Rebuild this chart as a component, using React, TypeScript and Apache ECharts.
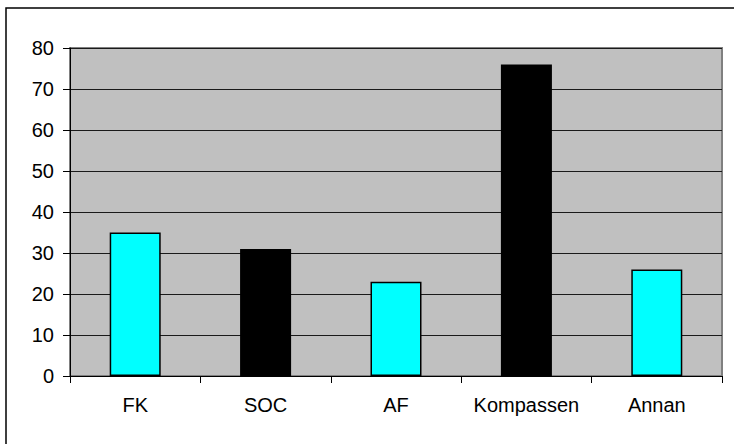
import React, { useEffect, useRef } from "react";
import * as echarts from "echarts";

const categories = ["FK", "SOC", "AF", "Kompassen", "Annan"];
const values = [35, 31, 23, 76, 26];
const barColors = ["#00FFFF", "#000000", "#00FFFF", "#000000", "#00FFFF"];
const yMin = 0;
const yMax = 80;
const yInterval = 10;

export default function App() {
  const ref = useRef<HTMLDivElement>(null);
  useEffect(() => {
    if (!ref.current) return;
    const chart = echarts.init(ref.current, undefined, { renderer: "svg" });
    chart.setOption({
      animation: false,
      backgroundColor: "#FFFFFF",
      textStyle: { fontFamily: "Liberation Sans, Arial, sans-serif" },
      graphic: [
        {
          type: "rect",
          shape: { x: 6, y: 8, width: 760, height: 470 },
          style: { fill: "none", stroke: "#000000", lineWidth: 1.5 },
          silent: true,
          z: 100,
        },
      ],
      grid: {
        left: 70,
        top: 48,
        right: 12,
        bottom: 68,
        show: true,
        backgroundColor: "#C0C0C0",
        borderColor: "#808080",
        borderWidth: 2,
      },
      xAxis: {
        type: "category",
        data: categories,
        axisLine: { show: true, lineStyle: { color: "#000000", width: 1 } },
        axisTick: { show: true, length: 7, interval: 0, lineStyle: { color: "#000000" } },
        axisLabel: {
          color: "#000000",
          fontSize: 20,
          margin: 19,
          interval: 0,
          hideOverlap: false,
          fontFamily: "Liberation Sans, Arial, sans-serif",
        },
        splitLine: { show: false },
      },
      yAxis: {
        type: "value",
        min: yMin,
        max: yMax,
        interval: yInterval,
        axisLine: { show: true, lineStyle: { color: "#000000", width: 1 } },
        axisTick: { show: true, length: 7, lineStyle: { color: "#000000" } },
        axisLabel: {
          color: "#000000",
          fontSize: 20,
          margin: 16,
          fontFamily: "Liberation Sans, Arial, sans-serif",
        },
        splitLine: { show: true, lineStyle: { color: "#1a1a1a", width: 1 } },
      },
      series: [
        {
          type: "bar",
          data: values.map((v, i) => ({
            value: v,
            itemStyle: { color: barColors[i] },
          })),
          barWidth: 51,
          itemStyle: { borderColor: "#000000", borderWidth: 1.5 },
        },
      ],
    });
    return () => chart.dispose();
  }, []);
  return (
    <div
      ref={ref}
      style={{ position: "absolute", left: 0, top: 0, width: 734, height: 444 }}
    />
  );
}
